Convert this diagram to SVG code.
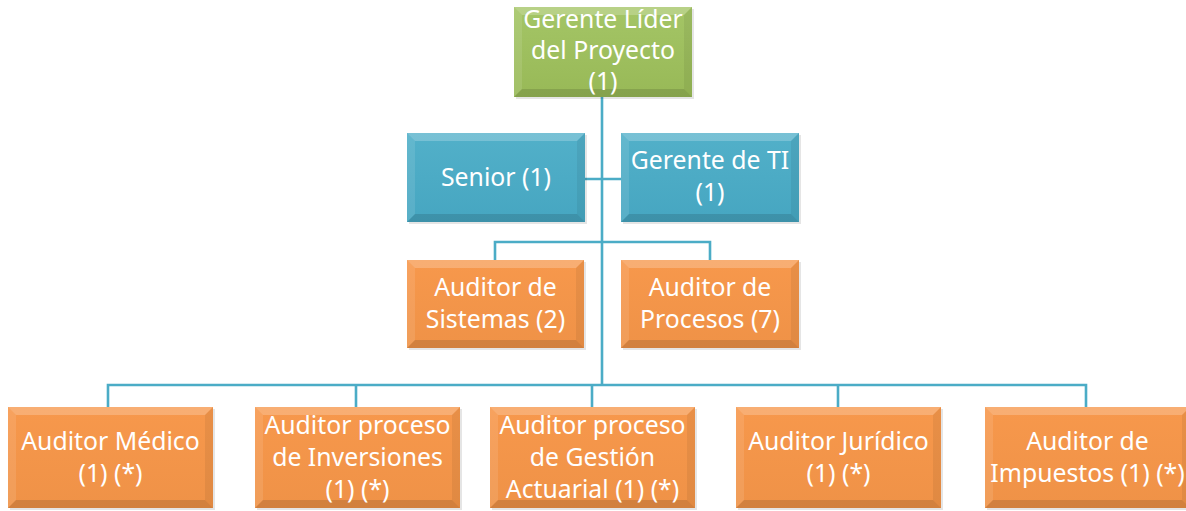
<svg xmlns="http://www.w3.org/2000/svg" width="1186" height="511" viewBox="0 0 1186 511">
<style>
.lbl{font-family:"Noto Sans","Open Sans",sans-serif;font-size:24.8px;fill:#ffffff;text-anchor:middle}
.con{stroke:#4bacc6;stroke-width:2.6;fill:none}
.bt{fill:#ffffff;opacity:0.22}
.bl{fill:#ffffff;opacity:0.1}
.br{fill:#000000;opacity:0.06}
.bb{fill:#000000;opacity:0.12}
.shadow{fill:#000000;opacity:0.1}
</style>
<defs>
<linearGradient id="gG" x1="0" y1="0" x2="0" y2="1"><stop offset="0" stop-color="#a4c566"/><stop offset="1" stop-color="#98b957"/></linearGradient>
<linearGradient id="gB" x1="0" y1="0" x2="0" y2="1"><stop offset="0" stop-color="#52b0c9"/><stop offset="1" stop-color="#46a6c1"/></linearGradient>
<linearGradient id="gO" x1="0" y1="0" x2="0" y2="1"><stop offset="0" stop-color="#f7984c"/><stop offset="1" stop-color="#ef9247"/></linearGradient>
</defs>
<g id="connectors">
<path class="con" d="M602 97V385"/>
<path class="con" d="M585 179H621"/>
<path class="con" d="M495 260V242H710V260"/>
<path class="con" d="M108 407V385H1086V407"/>
<path class="con" d="M356 385V407"/>
<path class="con" d="M592 385V407"/>
<path class="con" d="M838 385V407"/>
</g>
<g id="n-gerente-lider">
<rect class="shadow" x="516" y="9" width="178" height="90"/>
<rect x="514" y="7" width="178" height="90" fill="url(#gG)"/>
<polygon class="bt" points="514,7 692,7 684,15 522,15"/>
<polygon class="bl" points="514,7 522,15 522,89 514,97"/>
<polygon class="br" points="692,7 692,97 684,89 684,15"/>
<polygon class="bb" points="514,97 522,89 684,89 692,97"/>
<text class="lbl" x="603" y="28">Gerente Líder</text>
<text class="lbl" x="603" y="59">del Proyecto</text>
<text class="lbl" x="603" y="90">(1)</text>
</g>
<g id="n-senior">
<rect class="shadow" x="409" y="135" width="178" height="89"/>
<rect x="407" y="133" width="178" height="89" fill="url(#gB)"/>
<polygon class="bt" points="407,133 585,133 577,141 415,141"/>
<polygon class="bl" points="407,133 415,141 415,214 407,222"/>
<polygon class="br" points="585,133 585,222 577,214 577,141"/>
<polygon class="bb" points="407,222 415,214 577,214 585,222"/>
<text class="lbl" x="496" y="186">Senior (1)</text>
</g>
<g id="n-gerente-ti">
<rect class="shadow" x="623" y="135" width="178" height="89"/>
<rect x="621" y="133" width="178" height="89" fill="url(#gB)"/>
<polygon class="bt" points="621,133 799,133 791,141 629,141"/>
<polygon class="bl" points="621,133 629,141 629,214 621,222"/>
<polygon class="br" points="799,133 799,222 791,214 791,141"/>
<polygon class="bb" points="621,222 629,214 791,214 799,222"/>
<text class="lbl" x="710" y="169">Gerente de TI</text>
<text class="lbl" x="710" y="201">(1)</text>
</g>
<g id="n-sistemas">
<rect class="shadow" x="409" y="262" width="177" height="88"/>
<rect x="407" y="260" width="177" height="88" fill="url(#gO)"/>
<polygon class="bt" points="407,260 584,260 576,268 415,268"/>
<polygon class="bl" points="407,260 415,268 415,340 407,348"/>
<polygon class="br" points="584,260 584,348 576,340 576,268"/>
<polygon class="bb" points="407,348 415,340 576,340 584,348"/>
<text class="lbl" x="495.5" y="296">Auditor de</text>
<text class="lbl" x="495.5" y="328">Sistemas (2)</text>
</g>
<g id="n-procesos">
<rect class="shadow" x="623" y="262" width="178" height="88"/>
<rect x="621" y="260" width="178" height="88" fill="url(#gO)"/>
<polygon class="bt" points="621,260 799,260 791,268 629,268"/>
<polygon class="bl" points="621,260 629,268 629,340 621,348"/>
<polygon class="br" points="799,260 799,348 791,340 791,268"/>
<polygon class="bb" points="621,348 629,340 791,340 799,348"/>
<text class="lbl" x="710" y="296">Auditor de</text>
<text class="lbl" x="710" y="328">Procesos (7)</text>
</g>
<g id="n-medico">
<rect class="shadow" x="10" y="409" width="205" height="101"/>
<rect x="8" y="407" width="205" height="101" fill="url(#gO)"/>
<polygon class="bt" points="8,407 213,407 205,415 16,415"/>
<polygon class="bl" points="8,407 16,415 16,500 8,508"/>
<polygon class="br" points="213,407 213,508 205,500 205,415"/>
<polygon class="bb" points="8,508 16,500 205,500 213,508"/>
<text class="lbl" x="110.5" y="450">Auditor Médico</text>
<text class="lbl" x="110.5" y="482">(1) (*)</text>
</g>
<g id="n-inversiones">
<rect class="shadow" x="257" y="409" width="205" height="101"/>
<rect x="255" y="407" width="205" height="101" fill="url(#gO)"/>
<polygon class="bt" points="255,407 460,407 452,415 263,415"/>
<polygon class="bl" points="255,407 263,415 263,500 255,508"/>
<polygon class="br" points="460,407 460,508 452,500 452,415"/>
<polygon class="bb" points="255,508 263,500 452,500 460,508"/>
<text class="lbl" x="357.5" y="434">Auditor proceso</text>
<text class="lbl" x="357.5" y="466">de Inversiones</text>
<text class="lbl" x="357.5" y="498">(1) (*)</text>
</g>
<g id="n-actuarial">
<rect class="shadow" x="492" y="409" width="205" height="101"/>
<rect x="490" y="407" width="205" height="101" fill="url(#gO)"/>
<polygon class="bt" points="490,407 695,407 687,415 498,415"/>
<polygon class="bl" points="490,407 498,415 498,500 490,508"/>
<polygon class="br" points="695,407 695,508 687,500 687,415"/>
<polygon class="bb" points="490,508 498,500 687,500 695,508"/>
<text class="lbl" x="592.5" y="434">Auditor proceso</text>
<text class="lbl" x="592.5" y="466">de Gestión</text>
<text class="lbl" x="592.5" y="498">Actuarial (1) (*)</text>
</g>
<g id="n-juridico">
<rect class="shadow" x="738" y="409" width="205" height="101"/>
<rect x="736" y="407" width="205" height="101" fill="url(#gO)"/>
<polygon class="bt" points="736,407 941,407 933,415 744,415"/>
<polygon class="bl" points="736,407 744,415 744,500 736,508"/>
<polygon class="br" points="941,407 941,508 933,500 933,415"/>
<polygon class="bb" points="736,508 744,500 933,500 941,508"/>
<text class="lbl" x="838.5" y="450">Auditor Jurídico</text>
<text class="lbl" x="838.5" y="482">(1) (*)</text>
</g>
<g id="n-impuestos">
<rect class="shadow" x="987" y="409" width="205" height="101"/>
<rect x="985" y="407" width="205" height="101" fill="url(#gO)"/>
<polygon class="bt" points="985,407 1190,407 1182,415 993,415"/>
<polygon class="bl" points="985,407 993,415 993,500 985,508"/>
<polygon class="br" points="1190,407 1190,508 1182,500 1182,415"/>
<polygon class="bb" points="985,508 993,500 1182,500 1190,508"/>
<text class="lbl" x="1087.5" y="450">Auditor de</text>
<text class="lbl" x="1087.5" y="482">Impuestos (1) (*)</text>
</g>
</svg>
